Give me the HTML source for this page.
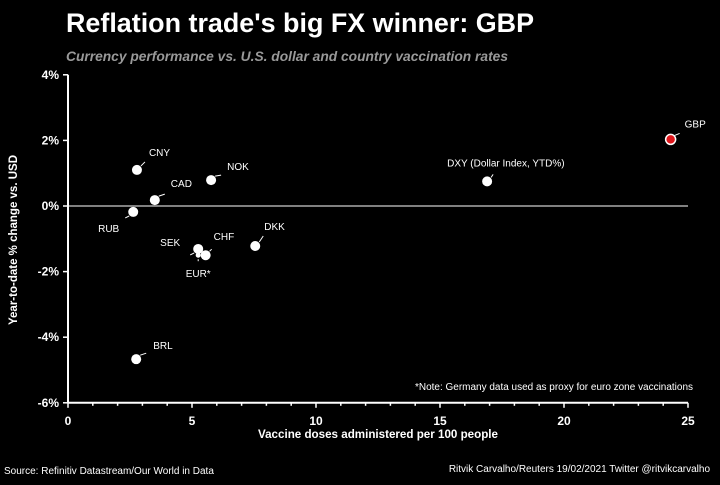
<!DOCTYPE html>
<html><head><meta charset="utf-8"><style>
body{margin:0;background:#000;width:720px;height:480px;overflow:hidden;font-family:"Liberation Sans",sans-serif}
svg text{font-family:"Liberation Sans",sans-serif}
</style></head><body>
<svg width="720" height="480">
<text x="66" y="32" fill="#fff" font-size="26.5" font-weight="bold" textLength="468" lengthAdjust="spacingAndGlyphs">Reflation trade's big FX winner: GBP</text>
<text x="66" y="61" fill="#999" font-size="14" font-style="italic" font-weight="bold" textLength="442" lengthAdjust="spacingAndGlyphs">Currency performance vs. U.S. dollar and country vaccination rates</text>
<g id="axes"></g>
<g id="marks"></g>
<text x="378" y="438" fill="#fff" font-size="11.5" font-weight="bold" text-anchor="middle" textLength="240" lengthAdjust="spacingAndGlyphs">Vaccine doses administered per 100 people</text>
<text transform="translate(17,240) rotate(-90)" fill="#fff" font-size="11.5" font-weight="bold" text-anchor="middle">Year-to-date % change vs. USD</text>
<text x="693" y="390" fill="#fff" font-size="10" text-anchor="end" textLength="278" lengthAdjust="spacingAndGlyphs">*Note: Germany data used as proxy for euro zone vaccinations</text>
<text x="4" y="474" fill="#fff" font-size="10">Source: Refinitiv Datastream/Our World in Data</text>
<text x="710" y="472" fill="#fff" font-size="10" text-anchor="end">Ritvik Carvalho/Reuters 19/02/2021 Twitter @ritvikcarvalho</text>
</svg>
<script>
const labels=["CNY","RUB","CAD","NOK","SEK","CHF","EUR*","DKK","BRL","DXY (Dollar Index, YTD%)","GBP"];
const xVals=[2.78,2.63,3.5,5.77,5.25,5.55,5.25,7.55,2.75,16.9,24.3];
const yVals=[1.1,-0.18,0.18,0.79,-1.31,-1.5,-1.5,-1.22,-4.67,0.75,2.03];
const xTicks=[0,5,10,15,20,25];
const yTicks=[4,2,0,-2,-4,-6];
const X=v=>68+v*24.8, Y=v=>206-v*32.8;
const NS="http://www.w3.org/2000/svg";
function mk(t,a,p){const e=document.createElementNS(NS,t);for(const k in a)e.setAttribute(k,a[k]);p.appendChild(e);return e;}
const ax=document.getElementById('axes'),mg=document.getElementById('marks');
let l=mk('line',{x1:X(0),y1:Y(4),x2:X(0),y2:Y(-6),stroke:'#fff','stroke-width':2},ax);


l=mk('line',{x1:X(0),y1:Y(-6),x2:X(25),y2:Y(-6),stroke:'#fff','stroke-width':2},ax);


l=mk('line',{x1:X(0),y1:Y(0),x2:X(25),y2:Y(0),stroke:'#fff','stroke-width':1},ax);


for(let i=0;i<=25;i++){mk('line',{x1:X(i),y1:Y(-6),x2:X(i),y2:Y(-6)+(i%5?3:5),stroke:'#fff','stroke-width':1.5},ax);}
xTicks.forEach(v=>{const t=mk('text',{x:X(v),y:425,fill:'#fff','font-size':12,'font-weight':'bold','text-anchor':'middle'},ax);t.textContent=v;

});
yTicks.forEach(v=>{mk('line',{x1:X(0)-5,y1:Y(v),x2:X(0),y2:Y(v),stroke:'#fff','stroke-width':1.5},ax);
const t=mk('text',{x:X(0)-9,y:Y(v)+4,fill:'#fff','font-size':12,'font-weight':'bold','text-anchor':'end'},ax);t.textContent=v+'%';

});
const off={"CNY":[8,-8,12,-14,'start'],"RUB":[-8,6,-14,20,'end'],"CAD":[10,-6,16,-13,'start'],"NOK":[10,-5,16,-10,'start'],
"SEK":[-8,6,-18,-3,'end'],"CHF":[6,-6,8,-15,'start'],"EUR*":[0,6,0,22,'middle'],"DKK":[8,-10,9,-16,'start'],"BRL":[10,-6,17,-10,'start'],
"DXY (Dollar Index, YTD%)":[6,-7,-40,-15,'start'],"GBP":[9,-6,14,-12,'start']};
labels.forEach((n,i)=>{const cx=X(xVals[i]),cy=Y(yVals[i]),o=off[n];
mk('line',{x1:cx+(o[0]?Math.sign(o[0])*4:0),y1:cy+Math.sign(o[1])*4,x2:cx+o[0],y2:cy+o[1],stroke:'#fff','stroke-width':1},mg);
const c=mk('circle',{cx:cx,cy:cy,r:n==="EUR*"?2.5:5,fill:n==="GBP"?'#e0161b':'#fff',stroke:'#fff','stroke-width':n==="GBP"?1.5:0},mg);


const t=mk('text',{x:cx+o[2],y:cy+o[3],fill:'#fff','font-size':10,'text-anchor':o[4]},mg);t.textContent=n;

});
</script>
</body></html>
